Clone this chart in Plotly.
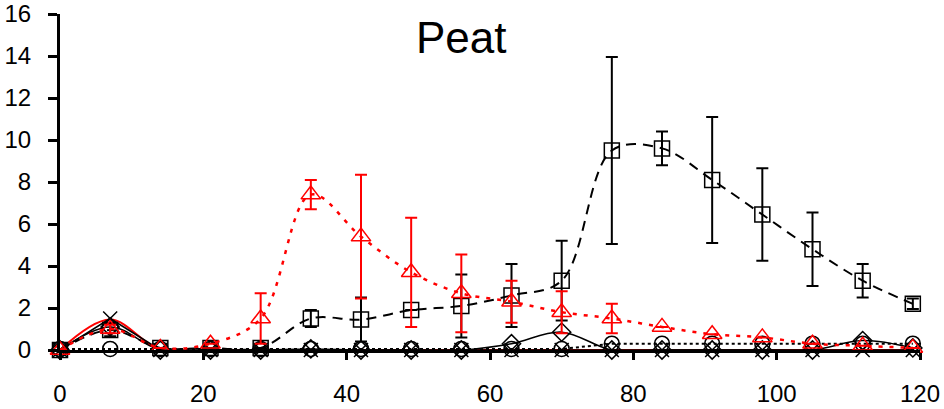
import plotly.graph_objects as go

days = [0, 7, 14, 21, 28, 35, 42, 49, 56, 63, 70, 77, 84, 91, 98, 105, 112, 119]

# open squares, dashed black
sq_vals = [0.0, 0.95, 0.1, 0.1, 0.1, 1.5, 1.45, 1.9, 2.1, 2.6, 3.3, 9.5, 9.6, 8.1, 6.45, 4.8, 3.3, 2.2]
sq_err = [0.0, 0.3, 0.0, 0.0, 0.0, 0.4, 1.05, 0.0, 1.5, 1.5, 1.9, 4.45, 0.8, 3.0, 2.2, 1.75, 0.8, 0.25]

# open triangles, dotted red
tri_vals = [0.0, 1.0, 0.1, 0.3, 1.5, 7.4, 5.4, 3.7, 2.7, 2.3, 1.8, 1.5, 1.1, 0.75, 0.6, 0.3, 0.2, 0.1]
tri_err = [0.0, 0.2, 0.0, 0.0, 1.2, 0.7, 2.95, 2.6, 1.85, 1.0, 1.0, 0.7, 0.0, 0.0, 0.0, 0.0, 0.0, 0.0]

# open circles, dotted black
circ_vals = [0.05, 0.05, 0.05, 0.05, 0.05, 0.05, 0.05, 0.05, 0.05, 0.05, 0.05, 0.3, 0.3, 0.3, 0.3, 0.3, 0.3, 0.3]

# diamonds, solid black
dia_vals = [0.0, 1.1, 0.0, 0.0, 0.0, 0.05, 0.0, 0.0, 0.0, 0.3, 0.85, 0.0, 0.0, 0.0, 0.0, 0.0, 0.45, 0.1]

# crosses, solid black
x_vals = [0.0, 1.5, 0.0, 0.0, 0.0, 0.0, 0.0, 0.0, 0.0, 0.0, 0.0, 0.0, 0.0, 0.0, 0.0, 0.0, 0.0, 0.0]

# solid red line
red_vals = [0.0, 1.45, 0.0, 0.0, 0.0, 0.0, 0.0, 0.0, 0.0, 0.0, 0.0, 0.0, 0.0, 0.0, 0.0, 0.0, 0.0, 0.0]

y_ticks = [0, 2, 4, 6, 8, 10, 12, 14, 16]
x_ticks = [0, 20, 40, 60, 80, 100, 120]

fig = go.Figure()

fig.add_trace(go.Scatter(
    x=days, y=red_vals, mode="lines",
    line=dict(color="red", width=2, shape="spline"),
))
fig.add_trace(go.Scatter(
    x=days, y=x_vals, mode="lines+markers",
    line=dict(color="black", width=1.5),
    marker=dict(symbol="x-thin-open", size=14, line=dict(color="black", width=1.5)),
))
fig.add_trace(go.Scatter(
    x=days, y=dia_vals, mode="lines+markers",
    line=dict(color="black", width=1.5, shape="spline"),
    marker=dict(symbol="diamond-open", size=14, color="black", line=dict(width=1.5)),
))
fig.add_trace(go.Scatter(
    x=days, y=circ_vals, mode="lines+markers",
    line=dict(color="black", width=2, dash="3px,3px"),
    marker=dict(symbol="circle-open", size=15, color="black", line=dict(width=1.5)),
))
fig.add_trace(go.Scatter(
    x=days, y=sq_vals, mode="lines+markers",
    line=dict(color="black", width=2, dash="10px,7px", shape="spline"),
    marker=dict(symbol="square-open", size=15, color="black", line=dict(width=1.5)),
    error_y=dict(type="data", array=sq_err, color="black", thickness=2, width=6),
))
fig.add_trace(go.Scatter(
    x=days, y=tri_vals, mode="lines+markers",
    line=dict(color="red", width=2.5, dash="4px,7px", shape="spline"),
    marker=dict(symbol="triangle-up-open", size=17, color="red", line=dict(width=1.5)),
    error_y=dict(type="data", array=tri_err, color="red", thickness=2, width=6),
))

fig.update_traces(cliponaxis=False)

fig.add_annotation(
    text="Peat", x=0.4674, y=0.9315, xref="paper", yref="paper", yanchor="middle",
    showarrow=False, font=dict(family="Liberation Sans, Arial", size=44, color="black"),
)

tick_font = dict(family="Liberation Sans, Arial", size=24, color="black")

fig.update_layout(
    width=944, height=409,
    margin=dict(l=60, r=24, t=14, b=59, autoexpand=False),
    paper_bgcolor="white", plot_bgcolor="white",
    showlegend=False,
    font=tick_font,
    xaxis=dict(
        range=[0, 120], tickvals=x_ticks,
        showgrid=False, zeroline=False, automargin=False,
        showline=True, linecolor="black", linewidth=3,
        ticks="outside", ticklen=7, tickwidth=3, tickcolor="black",
        tickfont=tick_font, ticklabelstandoff=13,
    ),
    yaxis=dict(
        range=[0, 16], tickvals=y_ticks,
        showgrid=False, zeroline=False, automargin=False,
        showline=True, linecolor="black", linewidth=3,
        ticks="outside", ticklen=9, tickwidth=3, tickcolor="black",
        tickfont=tick_font, ticklabelstandoff=12,
        ticklabeloverflow="allow",
    ),
)

fig.write_html(
    "out.html",
    config={"displayModeBar": False},
    post_script="document.body.style.margin='0';",
)
